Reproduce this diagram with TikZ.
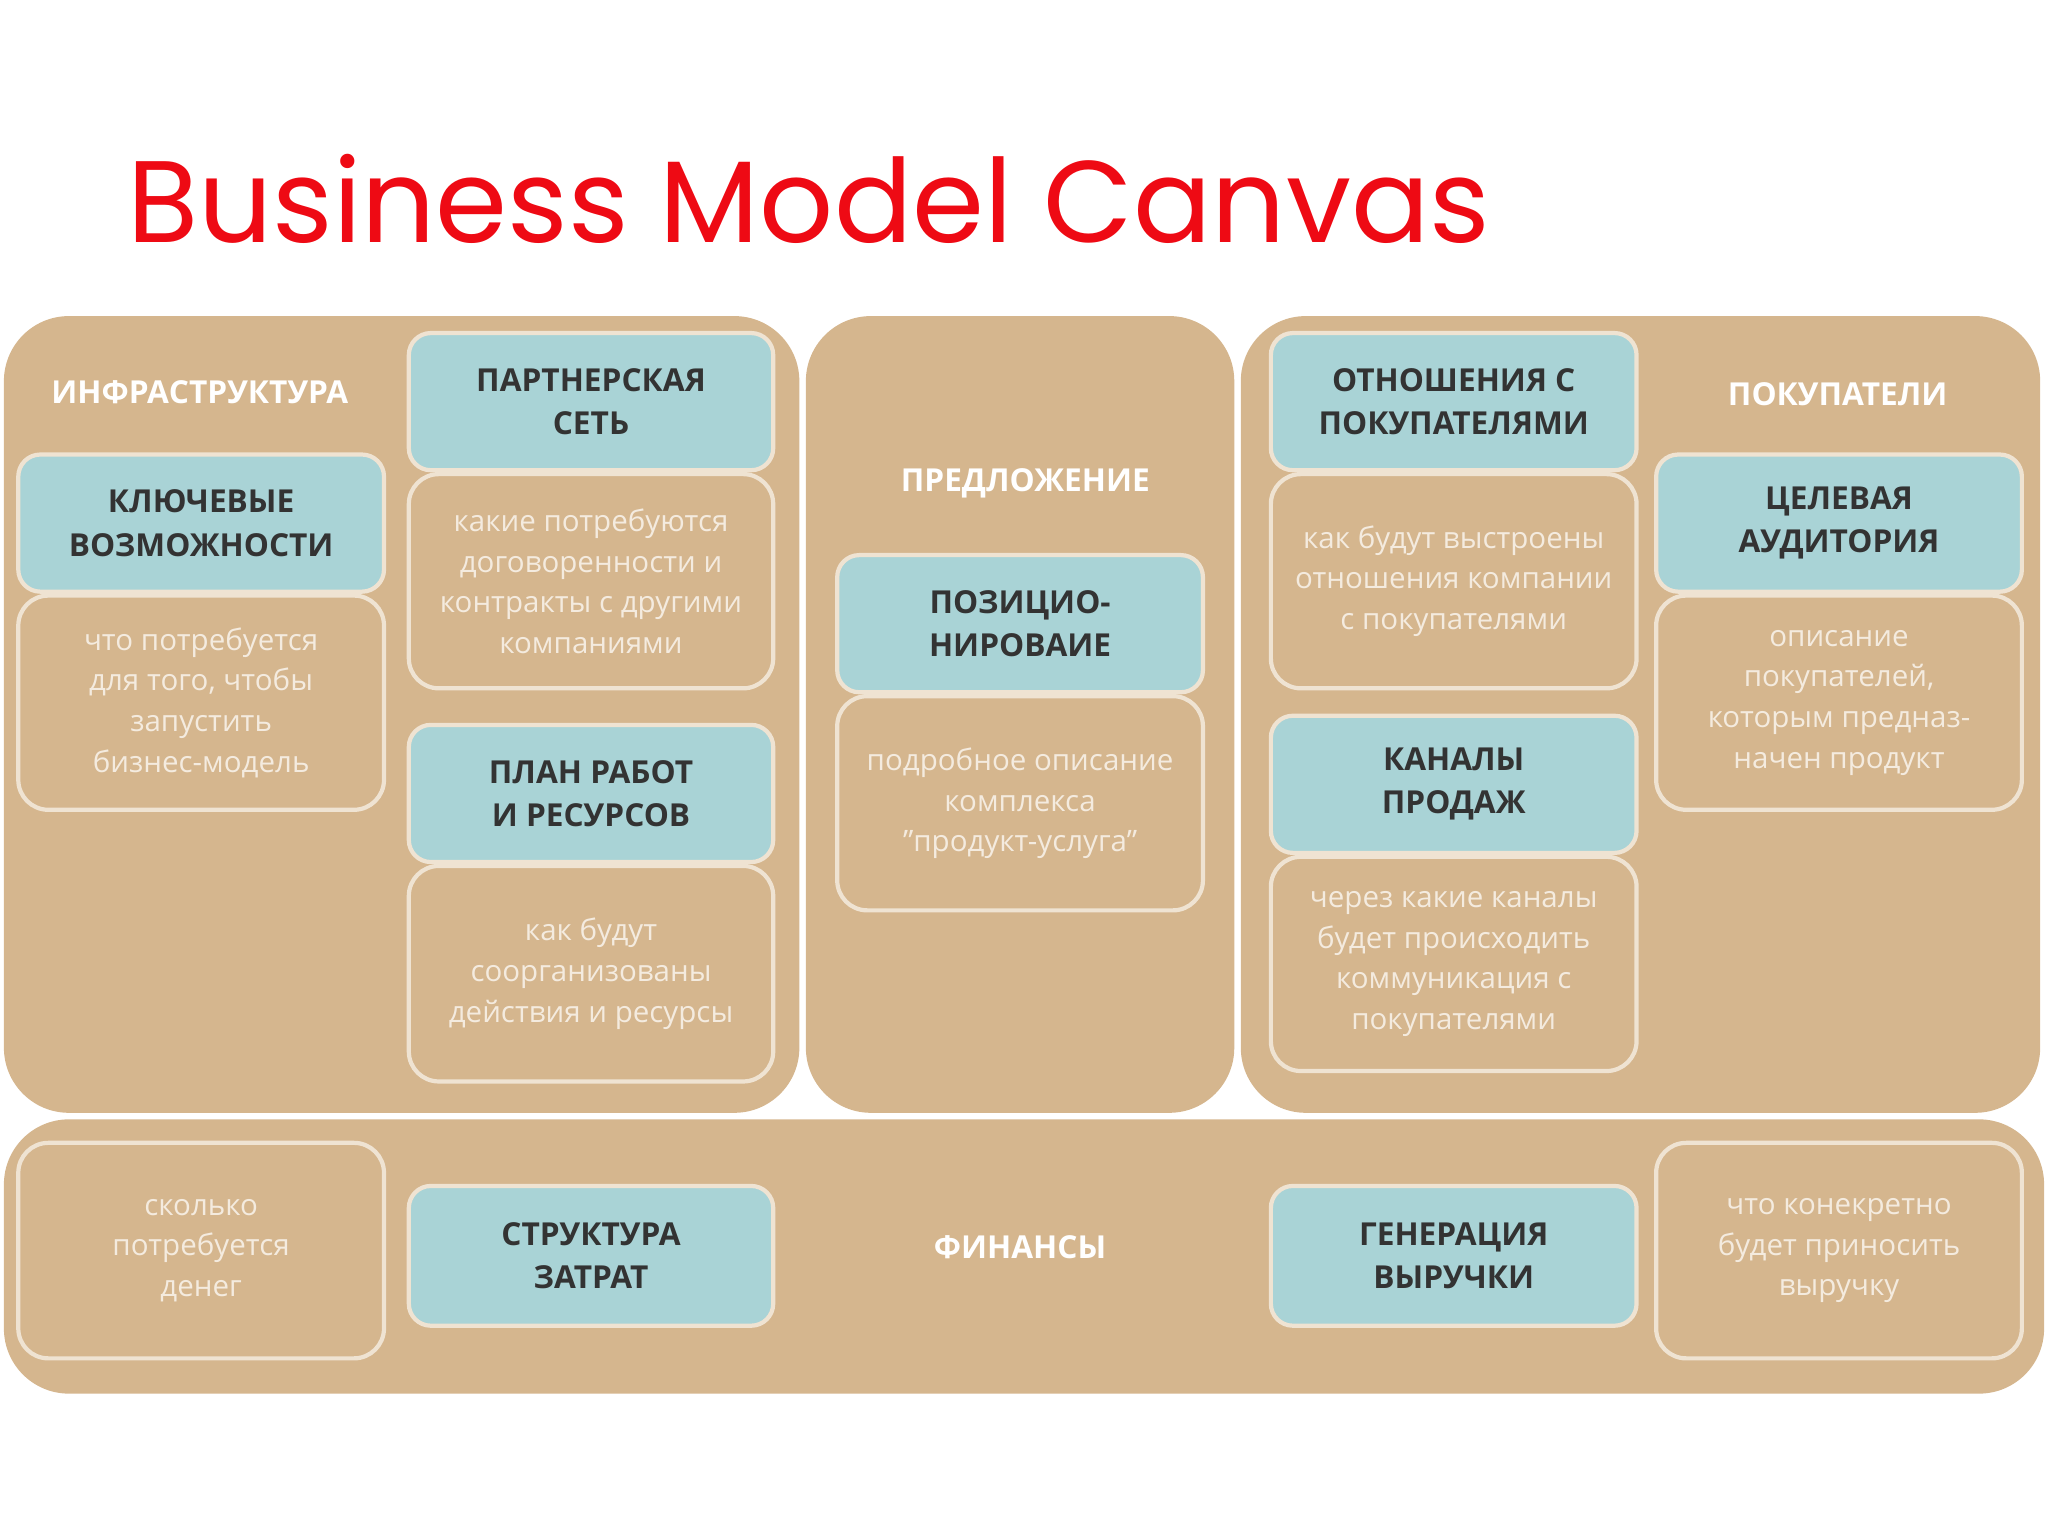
\documentclass[tikz,border=0pt]{standalone}
\usepackage{fontspec}
\setmainfont{Open Sans}
\newfontfamily\titlefont{Poppins}
\begin{document}
\begin{tikzpicture}[x=0.01306cm,y=-0.01306cm,
  panel/.style={fill=tanc,draw=none,rounded corners=0.65cm},
  bluebox/.style={fill=bluec,draw=edgec,line width=1.2pt,rounded corners=0.22cm},
  textbox/.style={fill=tanc,draw=edgec,line width=1.2pt,rounded corners=0.3cm},
  head/.style={font=\bfseries\fontsize{9}{12.3}\selectfont,text=black!80,align=center},
  body/.style={font=\fontsize{8.4}{11.6}\selectfont,text=lightc,align=center},
  sect/.style={font=\bfseries\fontsize{9}{11}\selectfont,text=white}]
\definecolor{tanc}{HTML}{D5B68E}
\definecolor{bluec}{HTML}{A9D3D6}
\definecolor{edgec}{HTML}{EFE3D2}
\definecolor{lightc}{HTML}{F4EBDF}
\definecolor{redc}{HTML}{EE0A14}
\useasboundingbox (0,0) rectangle (1568,1176);
\node[anchor=west,font=\titlefont\fontsize{33}{38}\selectfont,text=redc] (title) at (88,152) {Business Model Canvas};
% panels
\fill[panel] (3,242) rectangle (612,852);
\fill[panel] (617,242) rectangle (945,852);
\fill[panel] (950,242) rectangle (1562,852);
\fill[panel] (3,857) rectangle (1565,1067);
% section labels
\node[sect] (s1) at (153,300) {ИНФРАСТРУКТУРА};
\node[sect] (s2) at (785,370) {ПРЕДЛОЖЕНИЕ};
\node[sect] (s3) at (1407,302) {ПОКУПАТЕЛИ};
\node[sect] (s4) at (781,955) {ФИНАНСЫ};
% boxes
\newcommand{\bx}[6]{\draw[#1] (#2,#3) rectangle (#4,#5); \node[#6] at ({(#2+#4)/2},{(#3+#5)/2})}
\bx{bluebox}{313}{255}{592}{360}{head} (b1) {ПАРТНЕРСКАЯ\\СЕТЬ};
\bx{textbox}{313}{363}{592}{527}{body} (t1) {какие потребуются\\договоренности и\\контракты с другими\\компаниями};
\bx{bluebox}{14}{348}{294}{453}{head} (b2) {КЛЮЧЕВЫЕ\\ВОЗМОЖНОСТИ};
\bx{textbox}{14}{456}{294}{620}{body} (t2) {что потребуется\\для того, чтобы\\запустить\\бизнес-модель};
\bx{bluebox}{313}{555}{592}{660}{head} (b3) {ПЛАН РАБОТ\\И РЕСУРСОВ};
\bx{textbox}{313}{663}{592}{828}{body} (t3) {как будут\\соорганизованы\\действия и ресурсы};
\bx{bluebox}{641}{425}{921}{530}{head} (b4) {ПОЗИЦИО-\\НИРОВАИЕ};
\bx{textbox}{641}{533}{921}{697}{body} (t4) {подробное описание\\комплекса\\"продукт-услуга"};
\bx{bluebox}{973}{255}{1253}{360}{head} (b5) {ОТНОШЕНИЯ С\\ПОКУПАТЕЛЯМИ};
\bx{textbox}{973}{363}{1253}{527}{body} (t5) {как будут выстроены\\отношения компании\\с покупателями};
\bx{bluebox}{973}{548}{1253}{653}{head} (b6) {КАНАЛЫ\\ПРОДАЖ};
\bx{textbox}{973}{656}{1253}{820}{body} (t6) {через какие каналы\\будет происходить\\коммуникация с\\покупателями};
\bx{bluebox}{1268}{348}{1548}{453}{head} (b7) {ЦЕЛЕВАЯ\\АУДИТОРИЯ};
\bx{textbox}{1268}{456}{1548}{620}{body} (t7) {описание\\покупателей,\\которым предназ-\\начен продукт};
\bx{textbox}{14}{875}{294}{1040}{body} (t8) {сколько\\потребуется\\денег};
\bx{bluebox}{313}{908}{592}{1015}{head} (b8) {СТРУКТУРА\\ЗАТРАТ};
\bx{bluebox}{973}{908}{1253}{1015}{head} (b9) {ГЕНЕРАЦИЯ\\ВЫРУЧКИ};
\bx{textbox}{1268}{875}{1548}{1040}{body} (t9) {что конекретно\\будет приносить\\выручку};
\end{tikzpicture}
\end{document}
